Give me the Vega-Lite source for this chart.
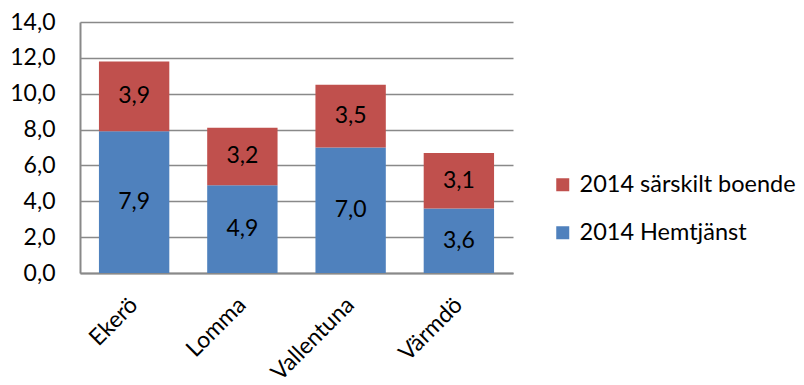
{
  "$schema": "https://vega.github.io/schema/vega-lite/v6.json",
  "width": 433,
  "height": 251,
  "autosize": "none",
  "padding": {"left": 80, "top": 22, "right": 291, "bottom": 112},
  "background": "white",
  "config": {
    "font": "Lato",
    "view": {"stroke": null},
    "locale": {"number": {"decimal": ",", "thousands": " ", "grouping": [3], "currency": ["", " kr"]}}
  },
  "data": {
    "values": [
      {"kommun": "Ekerö", "serie": "2014 Hemtjänst", "value": 7.9},
      {"kommun": "Ekerö", "serie": "2014 särskilt boende", "value": 3.9},
      {"kommun": "Lomma", "serie": "2014 Hemtjänst", "value": 4.9},
      {"kommun": "Lomma", "serie": "2014 särskilt boende", "value": 3.2},
      {"kommun": "Vallentuna", "serie": "2014 Hemtjänst", "value": 7.0},
      {"kommun": "Vallentuna", "serie": "2014 särskilt boende", "value": 3.5},
      {"kommun": "Värmdö", "serie": "2014 Hemtjänst", "value": 3.6},
      {"kommun": "Värmdö", "serie": "2014 särskilt boende", "value": 3.1}
    ]
  },
  "transform": [
    {"stack": "value", "groupby": ["kommun"], "sort": [{"field": "serie", "order": "ascending"}], "as": ["v0", "v1"]}
  ],
  "encoding": {
    "x": {
      "field": "kommun", "type": "nominal", "sort": null,
      "scale": {"paddingInner": 0.35, "paddingOuter": 0.175},
      "axis": {
        "title": null, "labelAngle": -45, "labelAlign": "right", "labelBaseline": "middle",
        "labelFontSize": 23, "labelColor": "#000000", "labelPadding": 28,
        "ticks": false, "domainColor": "#898989", "domainWidth": 2
      }
    }
  },
  "layer": [
    {
      "mark": {"type": "bar"},
      "encoding": {
        "y": {
          "field": "v0", "type": "quantitative",
          "scale": {"domain": [0, 14], "nice": false},
          "axis": {
            "title": null, "values": [0, 2, 4, 6, 8, 10, 12, 14], "format": ".1f",
            "labelFontSize": 23, "labelColor": "#000000", "labelPadding": 25, "labelOverlap": false,
            "ticks": false, "grid": true, "gridColor": "#898989", "gridWidth": 1.6,
            "domainColor": "#898989", "domainWidth": 2
          }
        },
        "y2": {"field": "v1"},
        "color": {
          "field": "serie", "type": "nominal",
          "scale": {"domain": ["2014 särskilt boende", "2014 Hemtjänst"], "range": ["#C0504D", "#4F81BD"]},
          "legend": {
            "title": null, "orient": "none", "legendX": 471, "legendY": 151, "padding": 0,
            "symbolType": "square", "symbolSize": 169, "symbolStrokeWidth": 0,
            "labelFontSize": 23.5, "labelColor": "#000000", "rowPadding": 23, "labelOffset": 5, "labelLimit": 0
          }
        }
      }
    },
    {
      "transform": [
        {"fold": ["v0", "v1"], "as": ["edge", "pos"]},
        {"aggregate": [{"op": "mean", "field": "pos", "as": "mid"}], "groupby": ["kommun", "serie", "value"]}
      ],
      "mark": {"type": "text", "fontSize": 23, "color": "#000000", "baseline": "middle", "align": "center"},
      "encoding": {
        "y": {
          "field": "mid", "type": "quantitative",
          "scale": {"domain": [0, 14], "nice": false},
          "axis": {
            "title": null, "values": [0, 2, 4, 6, 8, 10, 12, 14], "format": ".1f",
            "labelFontSize": 23, "labelColor": "#000000", "labelPadding": 25, "labelOverlap": false,
            "ticks": false, "grid": true, "gridColor": "#898989", "gridWidth": 1.6,
            "domainColor": "#898989", "domainWidth": 2
          }
        },
        "text": {"field": "value", "type": "quantitative", "format": ".1f"}
      }
    }
  ]
}
